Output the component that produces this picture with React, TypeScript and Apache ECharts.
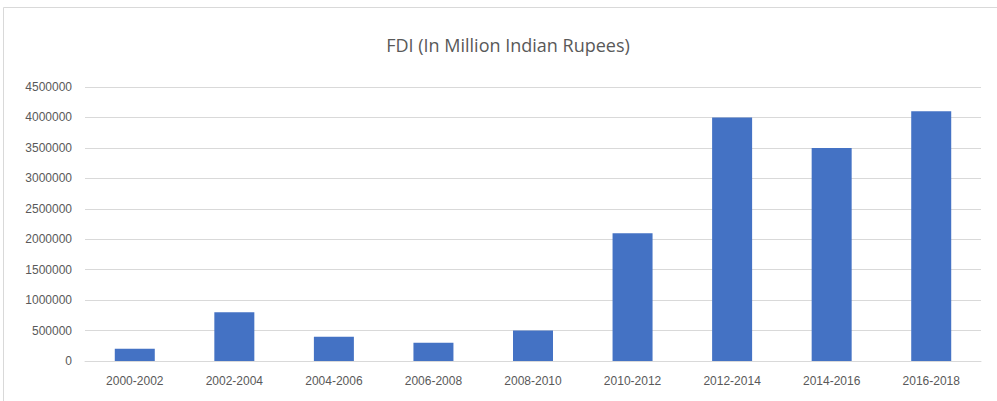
import React, { useEffect, useRef } from "react";
import * as echarts from "echarts";

const categories = ["2000-2002", "2002-2004", "2004-2006", "2006-2008", "2008-2010", "2010-2012", "2012-2014", "2014-2016", "2016-2018"];
const fdiValues = [200000, 800000, 400000, 300000, 500000, 2100000, 4000000, 3500000, 4100000];
const titleText = "FDI (In Million Indian Rupees)";

export default function App() {
  const ref = useRef<HTMLDivElement>(null);
  useEffect(() => {
    document.body.style.margin = "0";
    const chart = echarts.init(ref.current!, null, { renderer: "svg" });
    const font = "'Liberation Sans Narrow', 'Liberation Sans', Arial, sans-serif";
    chart.setOption({
      animation: false,
      backgroundColor: "#ffffff",
      title: {
        text: titleText,
        left: 503,
        textAlign: "center",
        top: 31,
        textStyle: { color: "#595959", fontSize: 18, fontWeight: "normal", fontFamily: "'Open Sans', sans-serif" },
      },
      graphic: [
        {
          type: "rect",
          shape: { x: 3.5, y: 7.5, width: 1000, height: 400 },
          style: { fill: "none", stroke: "#d9d9d9", lineWidth: 1 },
          silent: true,
        },
      ],
      grid: { left: 85, right: 16, top: 87, bottom: 40, containLabel: false },
      xAxis: {
        type: "category",
        data: categories,
        axisLine: { show: true, lineStyle: { color: "#d9d9d9", width: 1 } },
        axisTick: { show: false },
        axisLabel: { color: "#595959", fontSize: 12, margin: 14, fontFamily: font, interval: 0 },
      },
      yAxis: {
        type: "value",
        min: 0,
        max: 4500000,
        interval: 500000,
        axisLine: { show: false },
        axisTick: { show: false },
        splitLine: { lineStyle: { color: "#d9d9d9", width: 1 } },
        axisLabel: { color: "#595959", fontSize: 12, margin: 13, fontFamily: font, formatter: (v: number) => String(v) },
      },
      series: [
        {
          name: "FDI",
          type: "bar",
          data: fdiValues,
          barWidth: 40,
          itemStyle: { color: "#4472C4" },
        },
      ],
    });
    return () => chart.dispose();
  }, []);
  return <div ref={ref} style={{ width: 997, height: 401 }} />;
}
